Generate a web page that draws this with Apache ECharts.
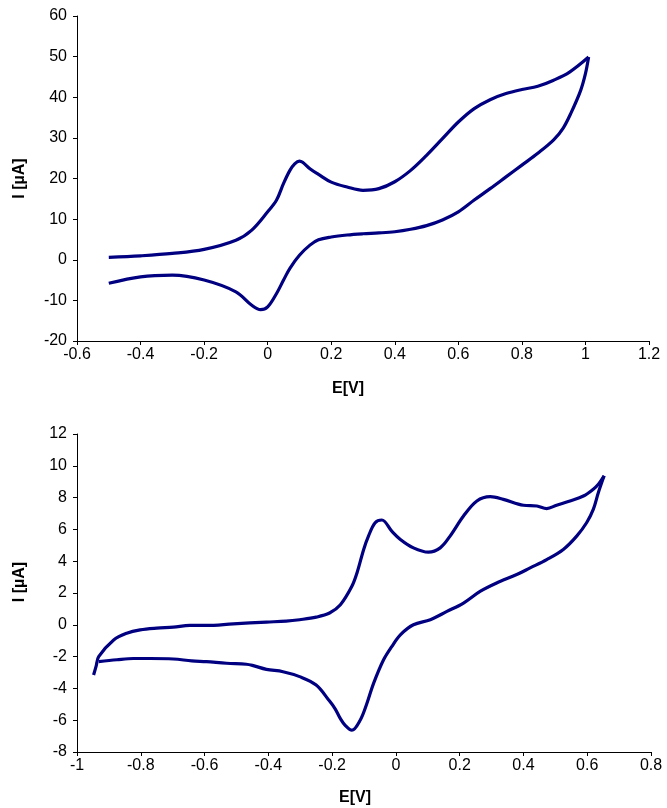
<!DOCTYPE html>
<html>
<head>
<meta charset="utf-8">
<script src="https://cdn.jsdelivr.net/npm/echarts@6/dist/echarts.min.js"></script>
<style>
  html, body { margin: 0; padding: 0; background: #fff; }
  #chart { width: 667px; height: 808px; }
</style>
</head>
<body>
<div id="chart"></div>
<script>
// top voltammogram: [E (V), I (µA)]
const topForward = [
  [-0.5, 0.6], [-0.4, 0.97], [-0.3, 1.55], [-0.2, 2.55], [-0.1, 4.8], [-0.05, 7.3],
  [0, 11.8], [0.028, 14.7], [0.05, 18.8], [0.07, 22], [0.085, 23.6], [0.1, 24.3],
  [0.11, 24.0], [0.133, 22.4], [0.16, 21.0], [0.2, 19.1], [0.25, 17.9], [0.3, 17.1],
  [0.35, 17.5], [0.4, 19.2], [0.45, 22.0], [0.5, 25.7], [0.55, 29.8], [0.6, 33.9],
  [0.65, 37.2], [0.7, 39.4], [0.75, 40.9], [0.8, 41.9], [0.85, 42.7], [0.9, 44.2],
  [0.95, 46.2], [1.01, 49.9]
];
const topReverse = [
  [1.01, 49.9], [1.0, 45.8], [0.985, 41.7], [0.955, 36.2], [0.93, 32.4], [0.9, 29.5],
  [0.85, 26.2], [0.8, 23.3], [0.75, 20.4], [0.7, 17.5], [0.65, 14.7], [0.6, 11.8],
  [0.55, 9.8], [0.5, 8.4], [0.45, 7.5], [0.4, 6.9], [0.35, 6.6], [0.3, 6.4],
  [0.25, 6.1], [0.2, 5.6], [0.16, 4.9], [0.133, 3.6], [0.1, 1.1], [0.07, -2.1],
  [0.05, -5.0], [0.028, -8.3], [0, -11.6], [-0.022, -12.3], [-0.05, -11.2],
  [-0.1, -7.9], [-0.2, -5.0], [-0.3, -3.8], [-0.4, -4.2], [-0.5, -5.8]
];

// bottom voltammogram
const botForward = [
  [-0.948, -3.16], [-0.94, -2.6], [-0.932, -2.0], [-0.885, -0.95], [-0.844, -0.53],
  [-0.802, -0.32], [-0.75, -0.21], [-0.698, -0.15], [-0.646, -0.04], [-0.594, -0.04],
  [-0.51, 0.06], [-0.406, 0.17], [-0.344, 0.23], [-0.302, 0.32], [-0.25, 0.48],
  [-0.208, 0.74], [-0.174, 1.26], [-0.138, 2.42], [-0.122, 3.26], [-0.101, 4.74],
  [-0.086, 5.58], [-0.065, 6.42], [-0.044, 6.59], [-0.013, 5.89], [0.014, 5.37],
  [0.055, 4.84], [0.102, 4.57], [0.139, 4.84], [0.17, 5.58], [0.212, 6.84],
  [0.254, 7.79], [0.296, 8.06], [0.337, 7.89], [0.4, 7.52], [0.442, 7.47],
  [0.473, 7.31], [0.504, 7.52], [0.546, 7.79], [0.588, 8.1], [0.619, 8.53],
  [0.635, 8.84], [0.653, 9.37]
];
const botReverse = [
  [0.653, 9.37], [0.635, 8.32], [0.619, 7.26], [0.598, 6.42], [0.567, 5.58],
  [0.525, 4.74], [0.473, 4.1], [0.421, 3.58], [0.379, 3.16], [0.316, 2.63],
  [0.264, 2.1], [0.212, 1.37], [0.16, 0.84], [0.108, 0.32], [0.055, 0.0],
  [0.014, -0.63], [-0.013, -1.37], [-0.039, -2.21], [-0.07, -3.68], [-0.091, -4.95],
  [-0.112, -6.0], [-0.138, -6.63], [-0.159, -6.32], [-0.174, -5.9], [-0.19, -5.3],
  [-0.208, -4.8], [-0.25, -3.79], [-0.302, -3.26], [-0.354, -2.95], [-0.406, -2.8],
  [-0.45, -2.55], [-0.469, -2.48], [-0.531, -2.42], [-0.594, -2.32], [-0.64, -2.27],
  [-0.698, -2.15], [-0.77, -2.12], [-0.823, -2.12], [-0.875, -2.2], [-0.932, -2.32]
];

const topX = { min: -0.6, max: 1.2, interval: 0.2 };
const topY = { min: -20, max: 60, interval: 10 };
const botX = { min: -1, max: 0.8, interval: 0.2 };
const botY = { min: -8, max: 12, interval: 2 };

const xName = 'E[V]';
const yName = 'I [µA]';
const lineColor = '#000080';
const font = 'Arial, "Liberation Sans", sans-serif';

const axisCommon = {
  type: 'value',
  splitLine: { show: false },
  axisLine: { onZero: false, lineStyle: { color: '#000', width: 1 } },
  axisTick: { inside: false, length: 4, lineStyle: { color: '#000' } },
  axisLabel: { color: '#000', fontSize: 16, fontFamily: font },
  nameTextStyle: { color: '#000', fontSize: 16, fontWeight: 'bold', fontFamily: font }
};

function xAxis(r, gridIndex, gap, shift) {
  return Object.assign({}, axisCommon, r, {
    gridIndex, position: 'bottom', name: xName, nameLocation: 'middle', nameGap: gap,
    axisLabel: Object.assign({}, axisCommon.axisLabel, { margin: 6 }),
    nameTextStyle: Object.assign({}, axisCommon.nameTextStyle, { padding: [0, shift, 0, 0] })
  });
}
function yAxis(r, gridIndex, lift) {
  return Object.assign({}, axisCommon, r, {
    gridIndex, position: 'left', name: yName, nameLocation: 'middle', nameGap: 49,
    axisLabel: Object.assign({}, axisCommon.axisLabel, { margin: 10 }),
    nameTextStyle: Object.assign({}, axisCommon.nameTextStyle, { padding: [0, 0, 0, lift] })
  });
}
function line(data, idx) {
  return {
    type: 'line', data, xAxisIndex: idx, yAxisIndex: idx,
    showSymbol: false, smooth: 0.35, animation: false,
    lineStyle: { color: lineColor, width: 3.2 }
  };
}

const chart = echarts.init(document.getElementById('chart'), null, { renderer: 'canvas' });
chart.setOption({
  backgroundColor: '#fff',
  animation: false,
  grid: [
    { left: 77, top: 16, width: 572, height: 325, containLabel: false, outerBoundsMode: 'none' },
    { left: 77, top: 434, width: 574, height: 318, containLabel: false, outerBoundsMode: 'none' }
  ],
  xAxis: [xAxis(topX, 0, 40, 30), xAxis(botX, 1, 38, 18)],
  yAxis: [yAxis(topY, 0, 0), yAxis(botY, 1, 22)],
  series: [
    line(topForward, 0), line(topReverse, 0),
    line(botForward, 1), line(botReverse, 1)
  ]
});
</script>
</body>
</html>
